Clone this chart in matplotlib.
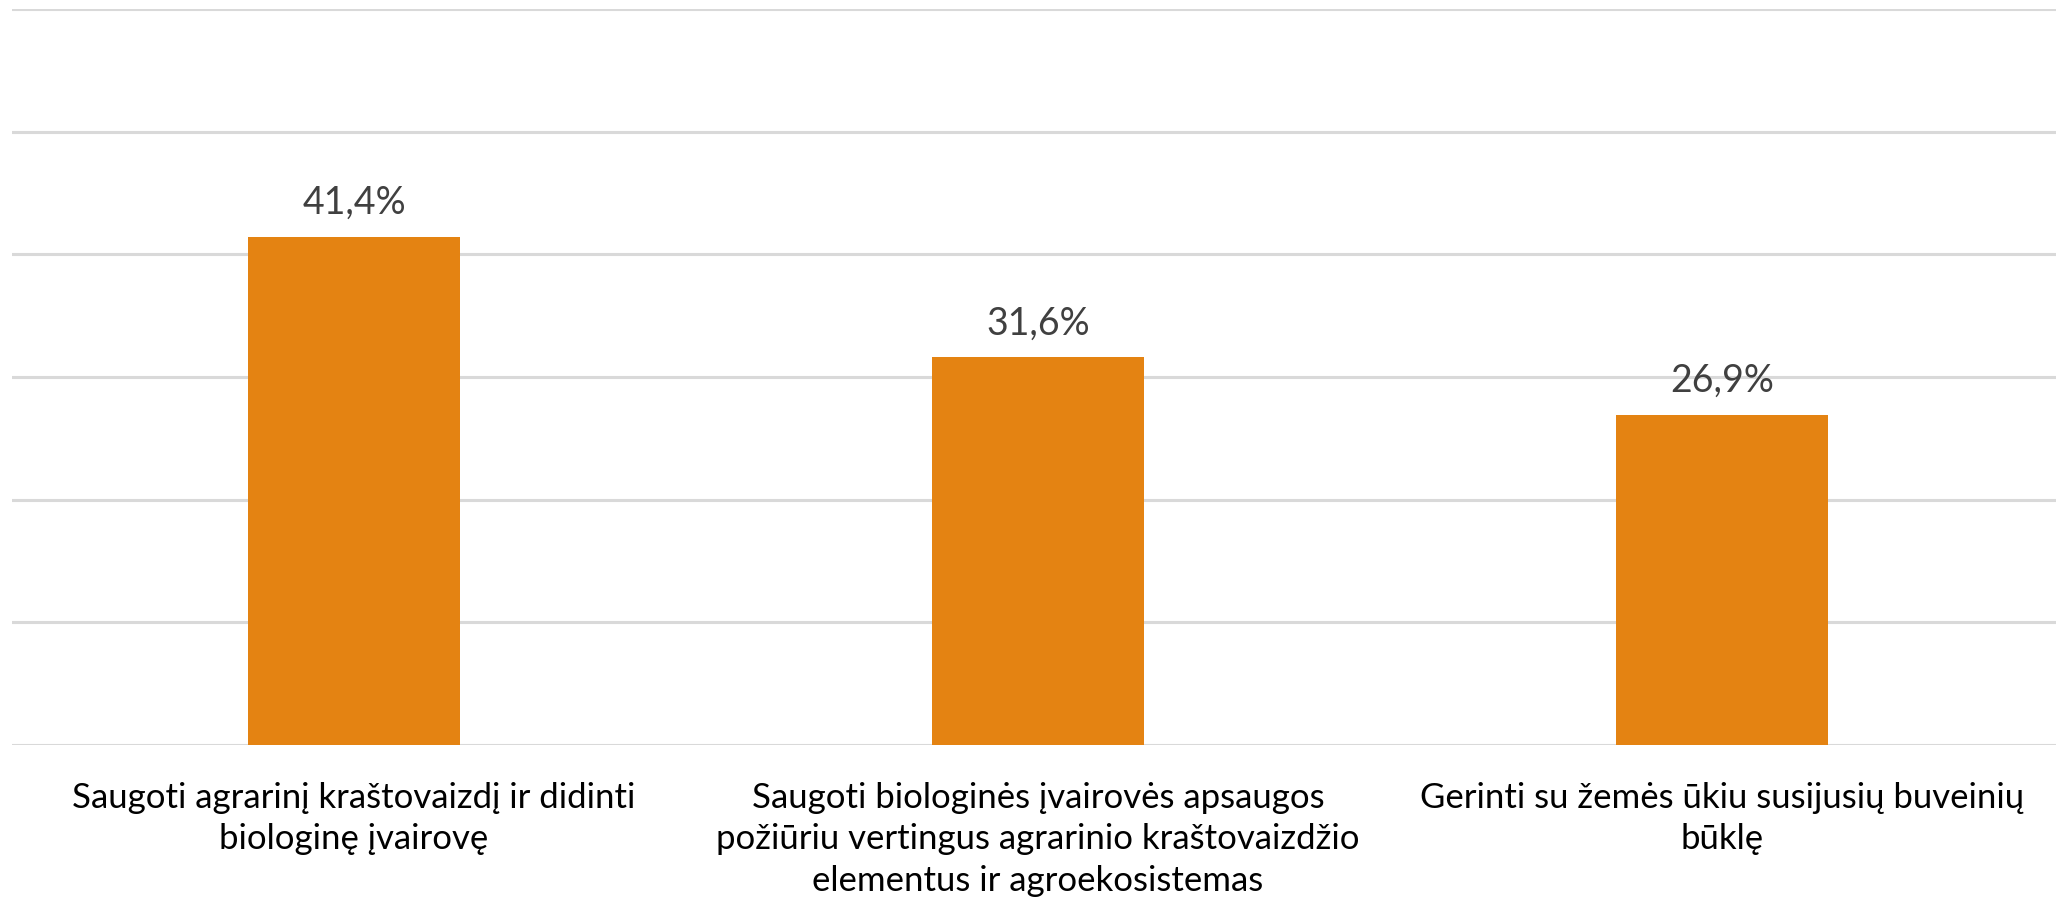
import matplotlib
matplotlib.use("Agg")
import matplotlib.pyplot as plt

categories = [
    "Saugoti agrarinį kraštovaizdį ir didinti\nbiologinę įvairovę",
    "Saugoti biologinės įvairovės apsaugos\npožiūriu vertingus agrarinio kraštovaizdžio\nelementus ir agroekosistemas",
    "Gerinti su žemės ūkiu susijusių buveinių\nbūklę",
]
values = [41.4, 31.6, 26.9]
value_labels = ["41,4%", "31,6%", "26,9%"]
yticks = [0, 10, 20, 30, 40, 50, 60]

plt.rcParams['font.family'] = ['Lato', 'DejaVu Sans']

fig = plt.figure(figsize=(20.56, 9.02), dpi=100)
left_px, right_px = 12, 2064
ax = fig.add_axes([left_px/2056, 1 - 745/902, (right_px-left_px)/2056, (745-9)/902])

x = list(range(len(categories)))
ax.bar(x, values, width=0.31, color='#E48312', zorder=3)
ax.set_xlim(-0.5, len(categories) - 0.5)
ax.set_ylim(0, 60)
ax.set_yticks(yticks)
ax.yaxis.grid(True, color='#d9d9d9', linewidth=2.2, zorder=0)
ax.set_axisbelow(True)
for s in ax.spines.values():
    s.set_visible(False)
ax.tick_params(axis='y', left=False, labelleft=False)
ax.tick_params(axis='x', bottom=False, pad=23)
ax.set_xticks(x)
ax.set_xticklabels(categories, fontsize=25, color='black', linespacing=1.36, va='top')

for xi, v, lab in zip(x, values, value_labels):
    ax.annotate(lab, (xi, v), xytext=(0, 23), textcoords='offset pixels',
                ha='center', va='baseline', fontsize=27, color='#404040')

fig.savefig('out.png', dpi=100)
